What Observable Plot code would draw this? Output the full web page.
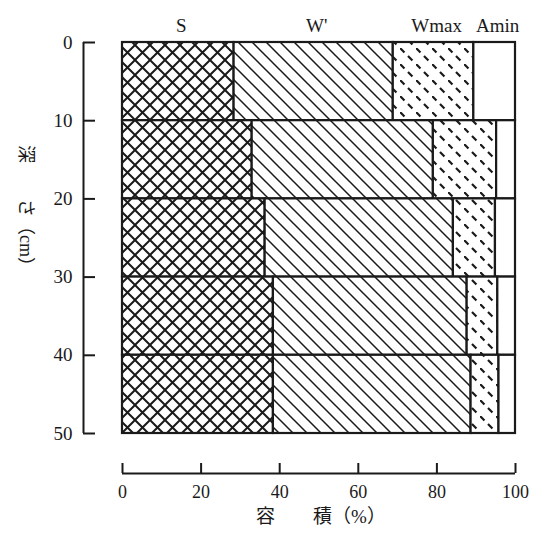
<!DOCTYPE html>
<html>
<head>
<meta charset="utf-8">
<script src="https://cdn.jsdelivr.net/npm/d3@7"></script>
<script src="https://cdn.jsdelivr.net/npm/@observablehq/plot@0.6"></script>
<style>
  html, body { margin: 0; padding: 0; background: #fff; }
</style>
</head>
<body>
<div id="chart"></div>
<script>
// ---- data ----
const depthTop = [0, 10, 20, 30, 40];
const depthBottom = [10, 20, 30, 40, 50];
const series = ["S", "W", "Wmax", "Amin"];
const S = [28.4, 33.0, 36.3, 38.4, 38.4];
const W = [40.5, 46.1, 47.9, 49.3, 50.3];
const Wmax = [20.5, 16.1, 10.7, 7.8, 7.1];
const Amin = [10.6, 4.8, 5.1, 4.5, 4.2];
const headerLabels = ["S", "W'", "Wmax", "Amin"];
const xTicks = [0, 20, 40, 60, 80, 100];
const yTicks = [0, 10, 20, 30, 40, 50];
const xLabel = "容　　積（%）";
const yLabel = "深　　さ（cm）";

const fills = {S: "url(#pat-S)", W: "url(#pat-W)", Wmax: "url(#pat-Wmax)", Amin: "white"};
const values = {S, W, Wmax, Amin};

// build the stacked segments table
const rows = [];
depthTop.forEach((top, i) => {
  let acc = 0;
  series.forEach((s, j) => {
    const v = values[s][i];
    rows.push({series: s, label: headerLabels[j], layer: i, y1: top, y2: depthBottom[i], x1: acc, x2: acc + v});
    acc += v;
  });
});
const headerRows = rows.filter(d => d.layer === 0);

const ink = "#1a1a1a";
const chart = Plot.plot({
  width: 533,
  height: 535,
  marginLeft: 122,
  marginRight: 18,
  marginTop: 42,
  marginBottom: 102,
  x: {domain: [0, 100]},
  y: {domain: [0, 50], reverse: true},
  color: {type: "identity"},
  style: {fontFamily: "'Liberation Serif', 'Noto Sans CJK JP', serif", fontSize: "19px", color: ink, background: "white"},
  marks: [
    Plot.rect(rows, {x1: "x1", x2: "x2", y1: "y1", y2: "y2", fill: d => fills[d.series], stroke: ink, strokeWidth: 2.2}),
    // header labels
    Plot.text(headerRows, {x: d => (d.x1 + d.x2) / 2, y: "y1", text: "label", dy: -17, dx: 3, fontSize: 19, fill: ink}),
    // y axis (detached to the left)
    Plot.ruleX([0], {y1: yTicks[0], y2: yTicks[yTicks.length - 1], dx: -39, stroke: ink, strokeWidth: 2}),
    Plot.axisY(yTicks, {anchor: "left", tickSize: -12, tickPadding: 23, dx: -39, strokeWidth: 2, stroke: ink, fontSize: 19, fill: ink}),
    // x axis (detached below)
    Plot.ruleY([yTicks[yTicks.length - 1]], {x1: xTicks[0], x2: xTicks[xTicks.length - 1], dy: 40, stroke: ink, strokeWidth: 2}),
    Plot.axisX(xTicks, {anchor: "bottom", tickSize: -10, tickPadding: 22, dy: 40, strokeWidth: 2, stroke: ink, fontSize: 18, fill: ink, label: null}),
    // axis titles
    Plot.text([xLabel], {frameAnchor: "bottom", x: 50, dx: 2, dy: 89, fontSize: 19, fill: ink, text: d => d}),
    Plot.text([yLabel], {frameAnchor: "left", textAnchor: "middle", rotate: 90, dx: -97, dy: -28, fontSize: 18, fill: ink, text: d => d})
  ]
});

// hatch patterns
const defs = document.createElementNS("http://www.w3.org/2000/svg", "defs");
defs.innerHTML = `
  <pattern id="pat-S" patternUnits="userSpaceOnUse" width="15" height="15">
    <rect width="15" height="15" fill="white"/>
    <path d="M-1,-1L16,16M16,-1L-1,16" stroke="${ink}" stroke-width="2" fill="none"/>
  </pattern>
  <pattern id="pat-W" patternUnits="userSpaceOnUse" width="14" height="14">
    <rect width="14" height="14" fill="white"/>
    <path d="M-1,-1L15,15M-1,13L1,15M13,-1L15,1" stroke="${ink}" stroke-width="1.5" fill="none"/>
  </pattern>
  <pattern id="pat-Wmax" patternUnits="userSpaceOnUse" width="16" height="16">
    <rect width="16" height="16" fill="white"/>
    <path d="M0,0L16,16" stroke="${ink}" stroke-width="2.2" stroke-dasharray="6.3 5" fill="none"/>
  </pattern>`;
chart.insertBefore(defs, chart.firstChild);

document.getElementById("chart").appendChild(chart);
</script>
</body>
</html>
